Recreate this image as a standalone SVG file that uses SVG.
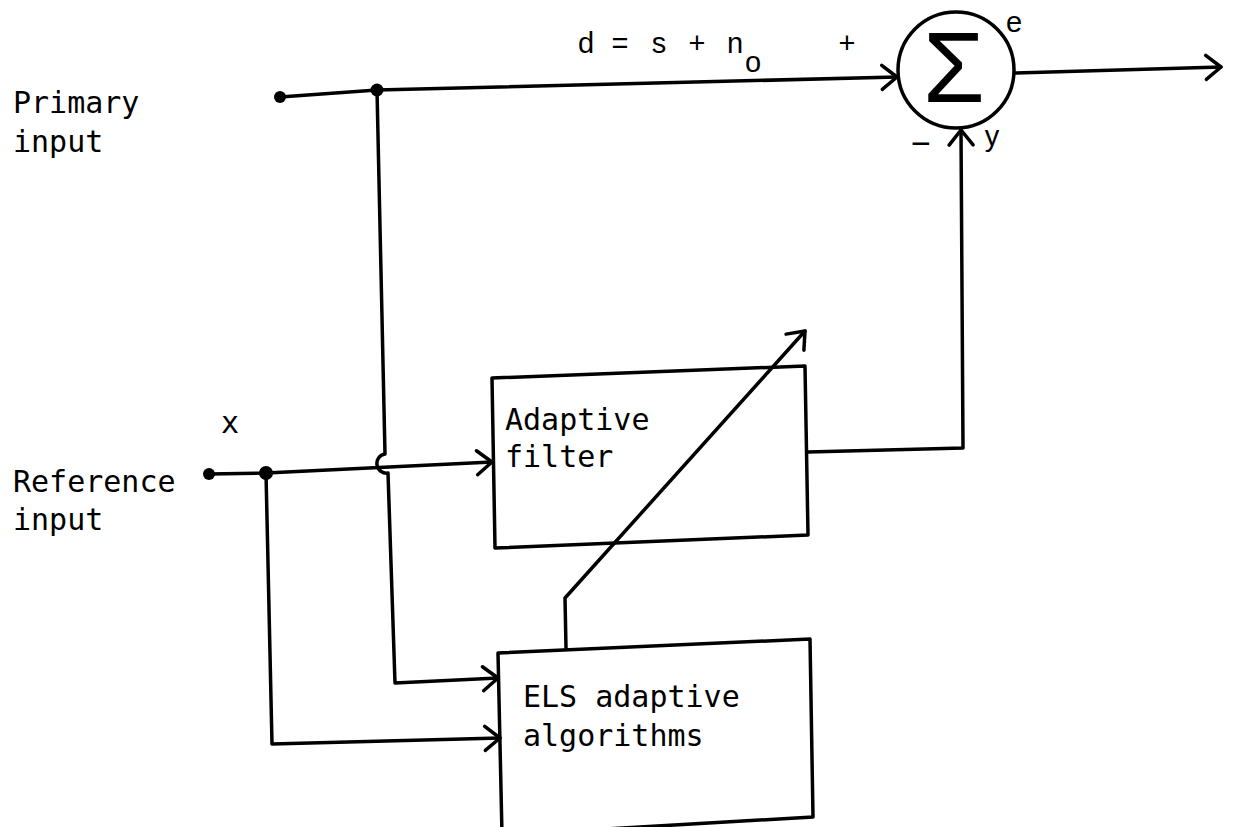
<svg xmlns="http://www.w3.org/2000/svg" width="1236" height="827" viewBox="0 0 1236 827">
<style>
.ln{fill:none;stroke:#000;stroke-width:3.5;stroke-linejoin:round;stroke-linecap:round}
.mono{font-family:"DejaVu Sans Mono","Liberation Mono",monospace;font-size:30px;fill:#000}
.sans{font-family:"Liberation Sans",Arial,sans-serif;font-size:29px;fill:#000}
.dot{fill:#000}
</style>
<defs>
<marker id="ah" viewBox="-18 -15 21 30" refX="0" refY="0" markerWidth="21" markerHeight="30" markerUnits="userSpaceOnUse" orient="auto">
<path d="M-15,-12 L0,0 L-15,12" fill="none" stroke="#000" stroke-width="3.5" stroke-linecap="round" stroke-linejoin="round"/>
</marker>
</defs>
<rect width="1236" height="827" fill="#fff"/>
<g id="labels">
<text class="mono" x="13" y="113">Primary</text>
<text class="mono" x="13" y="152">input</text>
<text class="mono" x="13" y="492">Reference</text>
<text class="mono" x="13" y="530">input</text>
<text class="mono" x="221" y="433">x</text>
<text class="sans" x="586" y="53" text-anchor="middle">d</text>
<text class="sans" x="620" y="53" text-anchor="middle">=</text>
<text class="sans" x="659" y="53" text-anchor="middle">s</text>
<text class="sans" x="697" y="53" text-anchor="middle">+</text>
<text class="sans" x="735" y="53" text-anchor="middle">n</text>
<text class="sans" x="753" y="72" text-anchor="middle">o</text>
<text class="sans" x="847" y="53" text-anchor="middle">+</text>
<text class="sans" x="1014" y="32" text-anchor="middle">e</text>
<text class="sans" x="992" y="146" text-anchor="middle">y</text>
<text class="sans" x="921" y="155" text-anchor="middle" style="font-size:34px">−</text>
</g>
<g id="summer">
<circle cx="956" cy="70" r="58" fill="none" stroke="#000" stroke-width="3.5"/>
<text x="954" y="102" text-anchor="middle" style="font-family:'Liberation Sans',Arial,sans-serif;font-size:100px;fill:#000">Σ</text>
</g>
<g id="adaptive-filter">
<polygon class="ln" points="492,378 805,366 808,535 495,548"/>
<text class="mono" x="505" y="430">Adaptive</text>
<text class="mono" x="505" y="467">filter</text>
</g>
<g id="els">
<polygon class="ln" points="498,653 810,639 813,817 502,835"/>
<text class="mono" x="523" y="707">ELS adaptive</text>
<text class="mono" x="523" y="746">algorithms</text>
</g>
<g id="connectors">
<circle class="dot" cx="280" cy="97" r="6"/>
<circle class="dot" cx="377" cy="90" r="6.5"/>
<circle class="dot" cx="209" cy="474" r="6"/>
<circle class="dot" cx="266" cy="473" r="7"/>
<path class="ln" d="M280,97 L377,90 L897,77" marker-end="url(#ah)"/>
<path class="ln" d="M1015,73 L1221,67" marker-end="url(#ah)"/>
<path class="ln" d="M209,474 L266,473 L492,462" marker-end="url(#ah)"/>
<path class="ln" d="M377,90 L385,454 A9.5,9.5 0 0 0 388,473 L395,683 L498,678" marker-end="url(#ah)"/>
<path class="ln" d="M266,473 L272,744 L500,738" marker-end="url(#ah)"/>
<path class="ln" d="M808,452 L963,448 L961,130" marker-end="url(#ah)"/>
<path class="ln" d="M566,648 L565,598 L805,331" marker-end="url(#ah)"/>
</g>
</svg>
